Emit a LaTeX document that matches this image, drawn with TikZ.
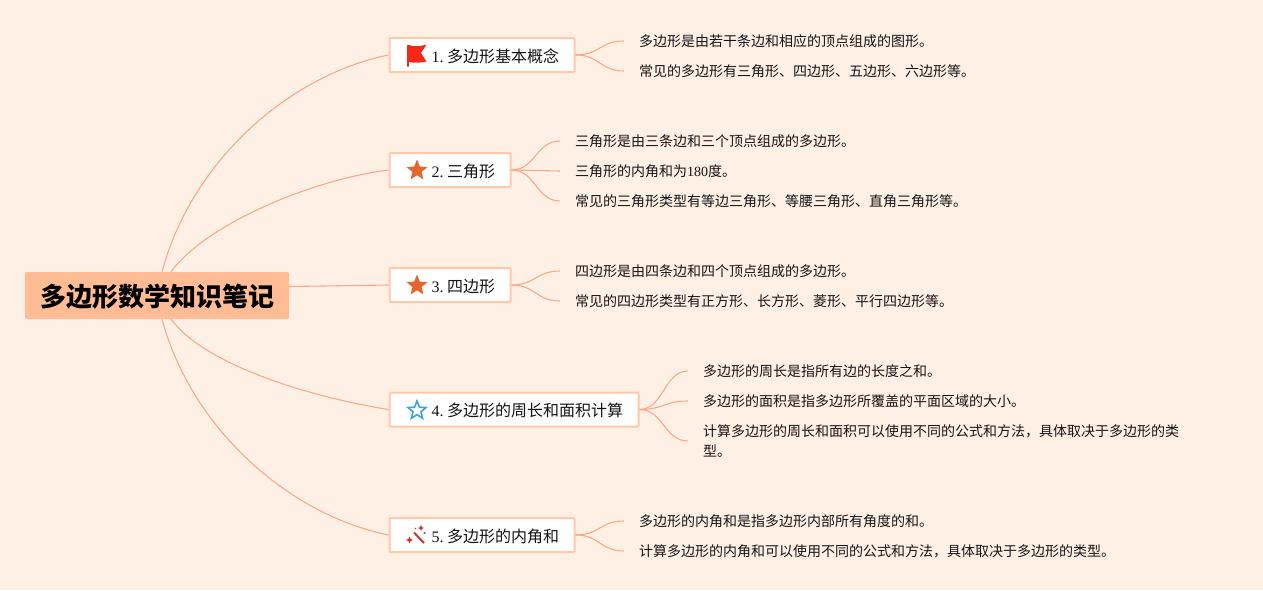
\documentclass[tikz,border=0pt]{standalone}
\usepackage{fontspec}
\usetikzlibrary{shapes.geometric,calc}
\setmainfont{Liberation Serif}
\newfontfamily\cjk{Noto Sans CJK SC}
\definecolor{bgc}{HTML}{FFF0E6}
\definecolor{rootc}{HTML}{FFBC95}
\definecolor{edgec}{HTML}{FFC9A8}
\definecolor{linec}{HTML}{FBA98A}
\definecolor{inkc}{HTML}{151515}
\definecolor{orangec}{HTML}{E5652E}
\definecolor{bluec}{HTML}{3BA5DC}
\definecolor{redc}{HTML}{F5281A}
\definecolor{wandc}{HTML}{C8372D}
\newcommand{\blabel}[3]{\makebox[#1][l]{\hspace{42pt}\raisebox{-7pt}[0pt][0pt]{#2\hspace{3.5pt}{\cjk #3}}}}
\tikzset{
  rootbox/.style={fill=rootc,rounded corners=2pt,minimum width=264pt,minimum height=47pt,inner sep=0pt,text=black,font=\fontsize{26}{30}\selectfont\cjk\bfseries},
  branchbox/.style={draw=edgec,line width=2pt,fill=white,rounded corners=1pt,anchor=west,minimum height=34pt,inner xsep=0pt,inner ysep=0pt,text=inkc,font=\fontsize{16}{20}\selectfont},
  leaf/.style={anchor=west,inner xsep=15pt,inner ysep=0pt,align=left,text=inkc,font=\fontsize{14}{20}\selectfont},
  conn/.style={draw=linec,line width=1.1pt},
  staricon/.style={star,star points=5,star point ratio=2.3,minimum size=22pt,inner sep=0pt},
}
\begin{document}
\begin{tikzpicture}[x=1pt,y=-1pt]
\useasboundingbox[fill=bgc] (0,0) rectangle (1263,590);
\node[rootbox] (root) at (157,295.5) {\raisebox{-10.5pt}[0pt][0pt]{多边形数学知识笔记}};
\coordinate (r1) at ($(root.north)+(5,0)$);
\coordinate (r2) at ($(root.north)+(14,0)$);
\coordinate (r3) at ($(root.east)+(0,-9)$);
\coordinate (r4) at ($(root.south)+(14,0)$);
\coordinate (r5) at ($(root.south)+(5,0)$);
\node[branchbox] (b1) at (388.5,55) {\blabel{185pt}{1.}{多边形基本概念}};
\node[branchbox] (b2) at (388.5,170) {\blabel{121pt}{2.}{三角形}};
\node[branchbox] (b3) at (388.5,285) {\blabel{121pt}{3.}{四边形}};
\node[branchbox] (b4) at (388.5,409.5) {\blabel{249pt}{4.}{多边形的周长和面积计算}};
\node[branchbox] (b5) at (388.5,535) {\blabel{185pt}{5.}{多边形的内角和}};
\node[leaf] (l11) at (624,41) {\cjk 多边形是由若干条边和相应的顶点组成的图形。};
\node[leaf] (l12) at (624,71) {\cjk 常见的多边形有三角形、四边形、五边形、六边形等。};
\node[leaf] (l21) at (560,141) {\cjk 三角形是由三条边和三个顶点组成的多边形。};
\node[leaf] (l22) at (560,171) {{\cjk 三角形的内角和为}180{\cjk 度。}};
\node[leaf] (l23) at (560,201) {\cjk 常见的三角形类型有等边三角形、等腰三角形、直角三角形等。};
\node[leaf] (l31) at (560,271) {\cjk 四边形是由四条边和四个顶点组成的多边形。};
\node[leaf] (l32) at (560,301) {\cjk 常见的四边形类型有正方形、长方形、菱形、平行四边形等。};
\node[leaf] (l41) at (688,371) {\cjk 多边形的周长是指所有边的长度之和。};
\node[leaf] (l42) at (688,401) {\cjk 多边形的面积是指多边形所覆盖的平面区域的大小。};
\node[leaf] (l43) at (688,441) {\cjk 计算多边形的周长和面积可以使用不同的公式和方法，具体取决于多边形的类\\\cjk 型。};
\node[leaf] (l51) at (624,521) {\cjk 多边形的内角和是指多边形内部所有角度的和。};
\node[leaf] (l52) at (624,551) {\cjk 计算多边形的内角和可以使用不同的公式和方法，具体取决于多边形的类型。};
\draw[conn] (r1) .. controls (192,160) and (290,75) .. (b1.west);
\draw[conn] (r2) .. controls (205,225) and (310,180) .. (b2.west);
\draw[conn] (r3) -- (b3.west);
\draw[conn] (r4) .. controls (205,365) and (310,397) .. (b4.west);
\draw[conn] (r5) .. controls (192,430) and (290,515) .. (b5.west);
\foreach \b/\l/\d in {b1/l11/24,b1/l12/24,b2/l21/24,b2/l23/24,b3/l31/24,b3/l32/24,b4/l41/24,b4/l42/24,b4/l43/24,b5/l51/24,b5/l52/24}{
  \draw[conn] (\b.east) .. controls +(\d,0) and ($(\l.west)+(-\d,0)$) .. (\l.west);
}
\draw[conn] (b2.east) -- (l22.west);
\fill[redc] (407,45) -- (408.8,45) .. controls (414,47) and (420,46.5) .. (426.5,44.5) -- (421,53) -- (426.5,61.5) .. controls (420,63) and (414,63) .. (408.8,62) -- (408.8,66.5) -- (407,66.5) -- cycle;
\node[staricon,fill=orangec] (i2) at (417,170.5) {};
\node[staricon,fill=orangec] (i3) at (417,285.5) {};
\node[staricon,draw=bluec,line width=1.6pt,minimum size=19pt,fill=white] (i4) at (417,410.5) {};
\draw[wandc,line width=2pt] (414,532.5) -- (424,543);
\fill[wandc] (409.5,536.5) -- (410.7,539) -- (413,540) -- (410.7,541) -- (409.5,543.5) -- (408.3,541) -- (406,540) -- (408.3,539) -- cycle;
\fill[wandc] (421,525) -- (422,527.2) -- (424,528) -- (422,528.8) -- (421,531) -- (420,528.8) -- (418,528) -- (420,527.2) -- cycle;
\fill[wandc] (424.5,533) circle (1.1pt);
\fill[wandc] (415.5,528.5) circle (0.9pt);
\end{tikzpicture}
\end{document}
